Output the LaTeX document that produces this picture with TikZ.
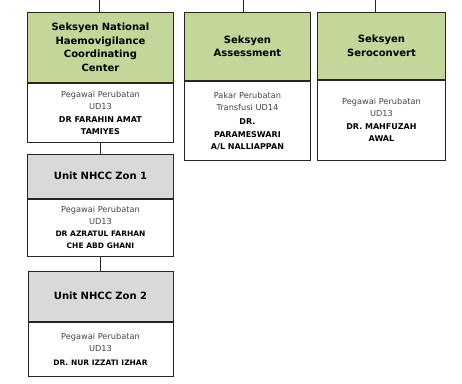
\documentclass[tikz,border=0pt]{standalone}
\usepackage{fontspec}
\setmainfont{DejaVu Sans}
\usetikzlibrary{positioning}
\definecolor{seksyengreen}{HTML}{C4D79B}
\definecolor{unitgrey}{HTML}{D9D9D9}
\definecolor{rankgrey}{HTML}{444444}
\tikzset{
  headbox/.style={draw=black!85, line width=0.9pt, fill=seksyengreen, align=center,
    inner xsep=3pt, inner ysep=0pt, font=\bfseries\fontsize{10}{13.5}\selectfont},
  unithead/.style={headbox, fill=unitgrey, font=\bfseries\fontsize{10}{13}\selectfont},
  bodybox/.style={draw=black!85, line width=0.9pt, fill=white, align=center,
    inner xsep=3pt, inner ysep=0pt, font=\fontsize{8.2}{12}\selectfont},
  link/.style={draw=black!85, line width=0.9pt}
}
\begin{document}
\begin{tikzpicture}[x=1pt,y=-1pt]
    \useasboundingbox[fill=white] (0,0) rectangle (462,383);

    % draw section headers
    \node[headbox, anchor=north west, text width=140pt, minimum height=70pt] (nhcc) at (27,12)
      {Seksyen National\\Haemovigilance\\Coordinating\\Center};
    \node[headbox, anchor=north west, text width=120pt, minimum height=68pt] (assess) at (184,12)
      {Seksyen\\Assessment};
    \node[headbox, anchor=north west, text width=122pt, minimum height=67pt] (sero) at (317,12)
      {Seksyen\\Seroconvert};

    % draw section staff
    \node[bodybox, below=0pt of nhcc, text width=140pt, minimum height=59pt] (nhccstaff)
      {\textcolor{rankgrey}{Pegawai Perubatan\\UD13}\\[2pt]
       {\bfseries\fontsize{8}{11}\selectfont DR FARAHIN AMAT\\TAMIYES}};
    \node[bodybox, below=0pt of assess, text width=120pt, minimum height=79pt] (assessstaff)
      {\textcolor{rankgrey}{Pakar Perubatan\\Transfusi UD14}\\[2pt]
       {\bfseries\fontsize{8}{12.5}\selectfont DR.\\PARAMESWARI\\A/L NALLIAPPAN}};
    \node[bodybox, below=0pt of sero, text width=122pt, minimum height=80pt] (serostaff)
      {\textcolor{rankgrey}{Pegawai Perubatan\\UD13}\\[2pt]
       {\bfseries\fontsize{8}{11}\selectfont DR. MAHFUZAH\\AWAL}};

    % draw units under NHCC
    \node[headbox, unithead, below=11pt of nhccstaff, text width=140pt, minimum height=44pt] (zon1)
      {Unit NHCC Zon 1};
    \node[bodybox, below=0pt of zon1, text width=140pt, minimum height=57pt] (zon1staff)
      {\textcolor{rankgrey}{Pegawai Perubatan\\UD13}\\[2pt]
       {\bfseries\fontsize{7.5}{10}\selectfont DR AZRATUL FARHAN\\CHE ABD GHANI}};
    \node[headbox, unithead, below=14pt of zon1staff, text width=139pt, minimum height=50pt] (zon2)
      {Unit NHCC Zon 2};
    \node[bodybox, below=0pt of zon2, text width=139pt, minimum height=54pt] (zon2staff)
      {\textcolor{rankgrey}{Pegawai Perubatan\\UD13}\\[2pt]
       {\bfseries\fontsize{7.5}{10}\selectfont DR. NUR IZZATI IZHAR}};

    % draw vertical links
    \coordinate (up1) at (99,0);
    \coordinate (up2) at (243,0);
    \coordinate (up3) at (375,0);
    \draw[link] (up1) -- (up1 |- nhcc.north);
    \draw[link] (up2) -- (up2 |- assess.north);
    \draw[link] (up3) -- (up3 |- sero.north);
    \draw[link] (nhccstaff.south) -- (zon1.north);
    \draw[link] (zon1staff.south) -- (zon2.north);
  \end{tikzpicture}
\end{document}
